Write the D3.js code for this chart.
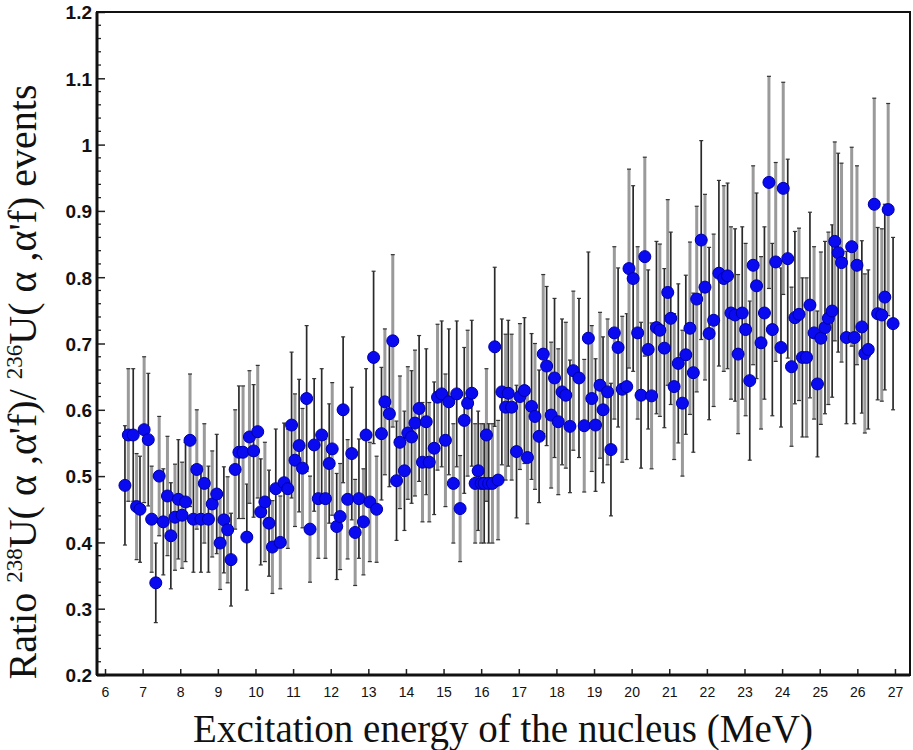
<!DOCTYPE html>
<html>
<head>
<meta charset="utf-8">
<script src="https://cdn.jsdelivr.net/npm/d3@7"></script>
<style>
  body { margin: 0; background: #fff; }
</style>
</head>
<body>
<script>
// excitation energy (MeV)
let energy = [
  6.53, 6.62, 6.75, 6.84, 6.93, 7.04, 7.15, 7.24, 7.35, 7.44,
  7.55, 7.66, 7.75, 7.86, 7.95, 8.05, 8.14, 8.26, 8.35, 8.44,
  8.55, 8.64, 8.75, 8.85, 8.97, 9.06, 9.16, 9.26, 9.35, 9.46,
  9.56, 9.67, 9.77, 9.84, 9.95, 10.06, 10.14, 10.25, 10.36, 10.45,
  10.54, 10.66, 10.76, 10.86, 10.96, 11.05, 11.16, 11.25, 11.36, 11.45,
  11.56, 11.67, 11.76, 11.86, 11.96, 12.04, 12.16, 12.25, 12.33, 12.45,
  12.56, 12.65, 12.75, 12.87, 12.94, 13.04, 13.14, 13.22, 13.35, 13.44,
  13.56, 13.65, 13.75, 13.84, 13.96, 14.05, 14.15, 14.24, 14.35, 14.44,
  14.54, 14.62, 14.75, 14.84, 14.95, 15.05, 15.14, 15.26, 15.35, 15.44,
  15.55, 15.64, 15.75, 15.84, 15.92, 16.00, 16.08, 16.14, 16.20, 16.30,
  16.36, 16.45, 16.55, 16.65, 16.72, 16.81, 16.94, 17.03, 17.15, 17.23,
  17.34, 17.43, 17.54, 17.65, 17.74, 17.86, 17.95, 18.05, 18.15, 18.25,
  18.36, 18.45, 18.60, 18.74, 18.85, 18.94, 19.04, 19.16, 19.24, 19.36,
  19.45, 19.54, 19.64, 19.75, 19.87, 19.93, 20.04, 20.16, 20.25, 20.35,
  20.44, 20.53, 20.66, 20.75, 20.87, 20.96, 21.04, 21.13, 21.24, 21.35,
  21.44, 21.55, 21.64, 21.73, 21.85, 21.95, 22.06, 22.18, 22.32, 22.45,
  22.55, 22.64, 22.75, 22.83, 22.94, 23.03, 23.14, 23.23, 23.32, 23.44,
  23.53, 23.65, 23.74, 23.83, 23.97, 24.03, 24.15, 24.25, 24.34, 24.45,
  24.54, 24.65, 24.74, 24.85, 24.94, 25.03, 25.14, 25.23, 25.33, 25.40,
  25.49, 25.58, 25.71, 25.85, 25.92, 25.99, 26.12, 26.20, 26.29, 26.45,
  26.54, 26.65, 26.73, 26.82, 26.95
];

// ratio 238U/236U
let ratio = [
  0.486, 0.562, 0.562, 0.454, 0.450, 0.570, 0.555, 0.435, 0.339, 0.500,
  0.431, 0.470, 0.410, 0.438, 0.465, 0.441, 0.461, 0.554, 0.435, 0.510,
  0.435, 0.489, 0.435, 0.458, 0.473, 0.399, 0.434, 0.419, 0.374, 0.510,
  0.536, 0.536, 0.408, 0.559, 0.538, 0.567, 0.446, 0.461, 0.429, 0.393,
  0.481, 0.400, 0.490, 0.481, 0.577, 0.524, 0.546, 0.512, 0.617, 0.420,
  0.547, 0.466, 0.562, 0.466, 0.519, 0.541, 0.424, 0.439, 0.600, 0.465,
  0.534, 0.415, 0.466, 0.431, 0.562, 0.461, 0.679, 0.450, 0.564, 0.612,
  0.594, 0.704, 0.493, 0.551, 0.508, 0.565, 0.559, 0.580, 0.602, 0.521,
  0.582, 0.521, 0.542, 0.619, 0.624, 0.554, 0.612, 0.489, 0.624, 0.451,
  0.584, 0.610, 0.625, 0.489, 0.508, 0.489, 0.489, 0.562, 0.489, 0.489,
  0.695, 0.494, 0.627, 0.604, 0.625, 0.604, 0.537, 0.620, 0.629, 0.528,
  0.605, 0.590, 0.560, 0.684, 0.666, 0.592, 0.648, 0.582, 0.627, 0.622,
  0.575, 0.659, 0.648, 0.576, 0.708, 0.617, 0.577, 0.637, 0.600, 0.627,
  0.540, 0.716, 0.694, 0.631, 0.635, 0.813, 0.798, 0.716, 0.622, 0.831,
  0.691, 0.621, 0.724, 0.720, 0.693, 0.777, 0.738, 0.635, 0.670, 0.610,
  0.683, 0.723, 0.656, 0.767, 0.856, 0.785, 0.715, 0.735, 0.806, 0.798,
  0.802, 0.746, 0.743, 0.684, 0.746, 0.721, 0.644, 0.818, 0.787, 0.701,
  0.746, 0.943, 0.721, 0.823, 0.694, 0.934, 0.828, 0.665, 0.739, 0.744,
  0.679, 0.679, 0.758, 0.716, 0.639, 0.708, 0.724, 0.738, 0.749, 0.854,
  0.837, 0.822, 0.709, 0.846, 0.709, 0.818, 0.725, 0.685, 0.691, 0.910,
  0.745, 0.743, 0.770, 0.902, 0.730
];

// statistical error on the ratio
let ratioErr = [
  0.09, 0.10, 0.10, 0.08, 0.08, 0.11, 0.10, 0.08, 0.06, 0.09,
  0.08, 0.09, 0.08, 0.08, 0.09, 0.08, 0.09, 0.10, 0.08, 0.09,
  0.08, 0.09, 0.08, 0.08, 0.09, 0.07, 0.08, 0.08, 0.07, 0.09,
  0.10, 0.10, 0.08, 0.10, 0.10, 0.10, 0.08, 0.09, 0.08, 0.07,
  0.09, 0.07, 0.09, 0.09, 0.11, 0.10, 0.10, 0.09, 0.11, 0.08,
  0.10, 0.09, 0.10, 0.09, 0.09, 0.10, 0.08, 0.08, 0.11, 0.09,
  0.10, 0.08, 0.09, 0.08, 0.10, 0.09, 0.13, 0.08, 0.10, 0.11,
  0.11, 0.13, 0.09, 0.10, 0.09, 0.10, 0.10, 0.11, 0.11, 0.09,
  0.11, 0.09, 0.10, 0.11, 0.11, 0.10, 0.11, 0.09, 0.11, 0.08,
  0.11, 0.11, 0.11, 0.09, 0.09, 0.09, 0.09, 0.10, 0.09, 0.09,
  0.12, 0.09, 0.11, 0.11, 0.11, 0.11, 0.10, 0.11, 0.11, 0.10,
  0.11, 0.11, 0.10, 0.12, 0.12, 0.11, 0.12, 0.11, 0.11, 0.11,
  0.10, 0.12, 0.12, 0.10, 0.13, 0.11, 0.10, 0.11, 0.11, 0.11,
  0.10, 0.13, 0.12, 0.11, 0.11, 0.15, 0.14, 0.13, 0.11, 0.15,
  0.12, 0.11, 0.13, 0.13, 0.12, 0.14, 0.13, 0.11, 0.12, 0.11,
  0.12, 0.13, 0.12, 0.14, 0.15, 0.14, 0.13, 0.13, 0.14, 0.14,
  0.14, 0.13, 0.13, 0.12, 0.13, 0.13, 0.12, 0.15, 0.14, 0.13,
  0.13, 0.16, 0.13, 0.15, 0.12, 0.16, 0.15, 0.12, 0.13, 0.13,
  0.12, 0.12, 0.14, 0.13, 0.11, 0.13, 0.13, 0.13, 0.13, 0.15,
  0.15, 0.15, 0.13, 0.15, 0.13, 0.15, 0.13, 0.12, 0.12, 0.16,
  0.13, 0.13, 0.14, 0.16, 0.13
];

let energyErr = 0.15;

let xTicks = [6, 7, 8, 9, 10, 11, 12, 13, 14, 15, 16, 17, 18, 19, 20, 21, 22, 23, 24, 25, 26, 27];
let yTicks = [0.2, 0.3, 0.4, 0.5, 0.6, 0.7, 0.8, 0.9, 1, 1.1, 1.2];

let data = energy.map(function(e, i) {
  return {x: e, y: ratio[i], err: ratioErr[i], i: i};
});

// plot area
let margin = {top: 12, right: 3, bottom: 75, left: 97},
    width = 913 - margin.left - margin.right,
    height = 750 - margin.top - margin.bottom;

let svg = d3.select("body")
  .append("svg")
  .attr("width", 913)
  .attr("height", 750);

let g = svg.append("g")
  .attr("transform", "translate(" + margin.left + "," + margin.top + ")");

let x = d3.scaleLinear()
  .domain([5.787, 27.4])
  .range([0, width]);

let y = d3.scaleLinear()
  .domain([0.2, 1.2])
  .range([height, 0]);

// y minor ticks
let yMinor = d3.range(0.2, 1.2001, 0.02).filter(function(v) {
  return Math.abs(v * 10 - Math.round(v * 10)) > 0.01;
});
g.selectAll(".yminor")
  .data(yMinor)
  .enter().append("line")
  .attr("x1", 0).attr("x2", 4)
  .attr("y1", function(d) { return y(d); })
  .attr("y2", function(d) { return y(d); })
  .attr("stroke", "#222")
  .attr("stroke-width", 1.3);

// y axis: ticks pointing into the plot
let yAxis = g.append("g")
  .call(d3.axisRight(y).tickValues(yTicks).tickSize(8).tickFormat(d3.format("")));
yAxis.select(".domain").remove();
yAxis.selectAll(".tick line").attr("stroke", "#222").attr("stroke-width", 1.5);
yAxis.selectAll(".tick text")
  .attr("x", -5)
  .attr("text-anchor", "end")
  .attr("dy", "0.36em")
  .style("font-family", "Liberation Sans, Arial, sans-serif")
  .style("font-weight", "bold")
  .style("font-size", "19px")
  .attr("fill", "#111");

// x axis: ticks pointing up
let xAxis = g.append("g")
  .attr("transform", "translate(0," + height + ")")
  .call(d3.axisTop(x).tickValues(xTicks).tickSize(6).tickFormat(d3.format("d")));
xAxis.select(".domain").remove();
xAxis.selectAll(".tick line").attr("stroke", "#222").attr("stroke-width", 1.5);
xAxis.selectAll(".tick text")
  .attr("y", 17)
  .attr("dy", "0.35em")
  .style("font-family", "Liberation Sans, Arial, sans-serif")
  .style("font-size", "14px")
  .attr("fill", "#111");

// vertical error bars, alternating dark and grey
let bars = g.append("g");
data.forEach(function(d) {
  let dark = d.i % 2 === 0;
  let col = dark ? "#2a2a2a" : "#9a9a9a";
  let w = dark ? 1.7 : 3;
  bars.append("line")
    .attr("x1", x(d.x)).attr("x2", x(d.x))
    .attr("y1", y(d.y - d.err)).attr("y2", y(d.y + d.err))
    .attr("stroke", col)
    .attr("stroke-width", w);
  [d.y - d.err, d.y + d.err].forEach(function(v) {
    bars.append("line")
      .attr("x1", x(d.x) - 2).attr("x2", x(d.x) + 2)
      .attr("y1", y(v)).attr("y2", y(v))
      .attr("stroke", "#333")
      .attr("stroke-width", 1.2);
  });
});

// horizontal error bars
g.append("g").selectAll("line")
  .data(data)
  .enter().append("line")
  .attr("x1", function(d) { return x(d.x - energyErr); })
  .attr("x2", function(d) { return x(d.x + energyErr); })
  .attr("y1", function(d) { return y(d.y); })
  .attr("y2", function(d) { return y(d.y); })
  .attr("stroke", "#111")
  .attr("stroke-width", 2);

// markers
g.append("g").selectAll("circle")
  .data(data)
  .enter().append("circle")
  .attr("cx", function(d) { return x(d.x); })
  .attr("cy", function(d) { return y(d.y); })
  .attr("r", 6)
  .attr("fill", "#0a0af0")
  .attr("stroke", "#0000a8")
  .attr("stroke-width", 1);

// frame
g.append("rect")
  .attr("x", 0).attr("y", 0)
  .attr("width", width).attr("height", height)
  .attr("fill", "none")
  .attr("stroke", "#111")
  .attr("stroke-width", 2);
g.append("line")
  .attr("x1", 0).attr("x2", 0).attr("y1", 0).attr("y2", height)
  .attr("stroke", "#111").attr("stroke-width", 3);
g.append("line")
  .attr("x1", 0).attr("x2", width).attr("y1", height).attr("y2", height)
  .attr("stroke", "#111").attr("stroke-width", 3);

// axis titles
svg.append("text")
  .attr("x", 503)
  .attr("y", 742)
  .attr("text-anchor", "middle")
  .style("font-family", "Liberation Serif, Times New Roman, serif")
  .style("font-size", "39px")
  .attr("fill", "#111")
  .text("Excitation energy of the nucleus (MeV)");

let yt = svg.append("text")
  .attr("transform", "translate(36,382) rotate(-90)")
  .attr("text-anchor", "middle")
  .style("font-family", "Liberation Serif, Times New Roman, serif")
  .style("font-size", "40px")
  .attr("fill", "#111");
yt.append("tspan").text("Ratio  ");
yt.append("tspan").attr("dy", -14).style("font-size", "23px").text("238");
yt.append("tspan").attr("dy", 14).text("U( α ,α'f)/ ");
yt.append("tspan").attr("dy", -14).style("font-size", "23px").text("236");
yt.append("tspan").attr("dy", 14).text("U( α ,α'f) events");
</script>
</body>
</html>
